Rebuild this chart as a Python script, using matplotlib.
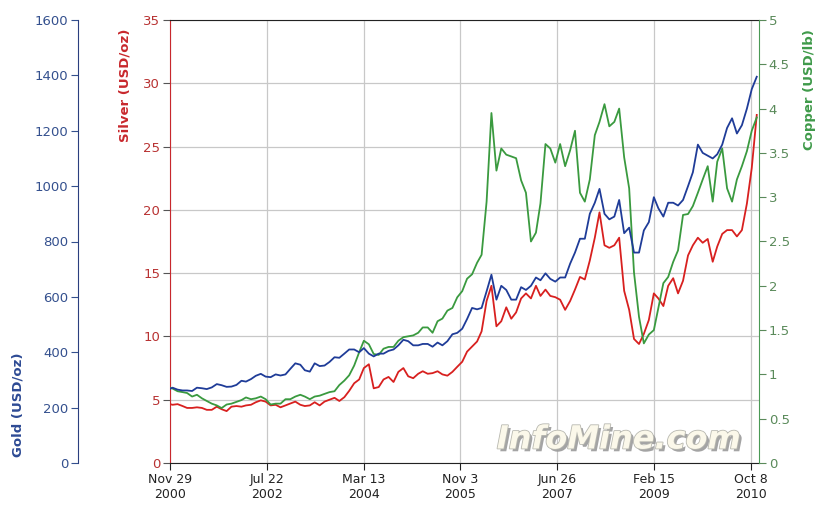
import pandas as pd
import matplotlib
matplotlib.use("Agg")
import matplotlib.pyplot as plt
import matplotlib.patheffects as pe
from matplotlib.ticker import FuncFormatter

# monthly readings (first point = Nov 29 2000, then mid-month Dec 2000 .. Nov 2010)
gold = [268, 272,
        265, 262, 262, 260, 272, 270, 267, 273, 285, 281, 275, 276,
        282, 297, 294, 303, 315, 322, 312, 310, 320, 316, 320, 340,
        360, 355, 335, 330, 360, 350, 352, 365, 382, 380, 395, 410,
        410, 400, 415, 395, 385, 395, 395, 405, 410, 425, 445, 440,
        425, 425, 430, 430, 420, 435, 425, 440, 465, 470, 485, 520,
        560, 555, 560, 620, 680, 590, 640, 625, 590, 590, 635, 625,
        640, 670, 660, 685, 665, 655, 670, 670, 720, 760, 810, 810,
        900, 940, 990, 900, 880, 890, 950, 830, 850, 760, 760, 840,
        870, 960, 920, 890, 940, 940, 930, 950, 1000, 1050, 1150, 1120,
        1110, 1100, 1115, 1150, 1210, 1245, 1190, 1220, 1280, 1350, 1395]

silver = [4.65, 4.60,
          4.65, 4.50, 4.35, 4.35, 4.40, 4.35, 4.20, 4.20, 4.45, 4.25, 4.10, 4.45,
          4.50, 4.45, 4.55, 4.60, 4.80, 4.95, 4.85, 4.55, 4.60, 4.40, 4.55, 4.70,
          4.85, 4.60, 4.50, 4.55, 4.80, 4.55, 4.85, 5.00, 5.15, 4.90, 5.20, 5.70,
          6.30, 6.60, 7.50, 7.80, 5.90, 6.00, 6.60, 6.80, 6.40, 7.20, 7.50, 6.85,
          6.70, 7.05, 7.25, 7.05, 7.10, 7.25, 7.00, 6.90, 7.20, 7.60, 8.00, 8.80,
          9.20, 9.60, 10.40, 12.80, 14.00, 10.80, 11.20, 12.30, 11.40, 11.90, 13.00, 13.40,
          13.00, 14.00, 13.20, 13.70, 13.20, 13.10, 12.90, 12.10, 12.80, 13.70, 14.70, 14.50,
          16.00, 17.80, 19.80, 17.20, 17.00, 17.20, 17.80, 13.60, 12.10, 9.80, 9.40, 10.20,
          11.30, 13.40, 13.00, 12.40, 14.00, 14.60, 13.40, 14.40, 16.40, 17.20, 17.80, 17.40,
          17.70, 15.90, 17.10, 18.10, 18.40, 18.40, 17.90, 18.40, 20.50, 23.30, 27.50]

copper = [0.85, 0.84,
          0.81, 0.80, 0.79, 0.75, 0.77, 0.73, 0.70, 0.67, 0.65, 0.62, 0.66, 0.67,
          0.69, 0.71, 0.74, 0.72, 0.73, 0.75, 0.72, 0.66, 0.67, 0.67, 0.72, 0.72,
          0.75, 0.77, 0.75, 0.72, 0.75, 0.76, 0.78, 0.80, 0.81, 0.88, 0.93, 0.99,
          1.10, 1.25, 1.38, 1.34, 1.23, 1.22, 1.29, 1.31, 1.31, 1.38, 1.42, 1.43,
          1.44, 1.47, 1.53, 1.53, 1.47, 1.60, 1.63, 1.72, 1.75, 1.87, 1.94, 2.08,
          2.13, 2.26, 2.35, 2.95, 3.95, 3.30, 3.55, 3.48, 3.46, 3.44, 3.19, 3.05,
          2.50, 2.60, 2.93, 3.60, 3.55, 3.39, 3.60, 3.35, 3.53, 3.75, 3.05, 2.95,
          3.20, 3.70, 3.85, 4.05, 3.80, 3.85, 4.00, 3.45, 3.10, 2.15, 1.65, 1.35,
          1.45, 1.50, 1.75, 2.03, 2.10, 2.27, 2.40, 2.80, 2.81, 2.90, 3.05, 3.20,
          3.35, 2.95, 3.40, 3.55, 3.10, 2.95, 3.20, 3.35, 3.52, 3.75, 3.90]

dates = [pd.Timestamp("2000-11-29")] + list(pd.date_range("2000-12-01", "2010-11-01", freq="MS") + pd.Timedelta(days=14))

x_start = pd.Timestamp("2000-11-29")
x_end = pd.Timestamp("2010-11-29")
tick_dates = [x_start + pd.Timedelta(days=600 * i) for i in range(7)]
tick_labels = [d.strftime("%b %-d\n%Y") for d in tick_dates]

gold_c, silver_c, copper_c = "#1f3c98", "#d8201f", "#3a9a3f"

fig = plt.figure(figsize=(8.17, 5.07), dpi=100)
ax = fig.add_axes([170 / 817, 44 / 507, 589 / 817, 443 / 507])

# silver on the main axis
ax.plot(dates, silver, color=silver_c, lw=1.3, zorder=3)
ax.set_ylim(0, 35)
ax.set_yticks(range(0, 36, 5))
ax.set_xlim(x_start, x_end)
ax.set_xticks(tick_dates)
ax.set_xticklabels(tick_labels, fontsize=9, color="#222222")
ax.grid(True, color="#c8c8c8", lw=0.9)
ax.set_axisbelow(True)
ax.tick_params(axis="y", colors="#b83232", labelsize=9.5, length=5, pad=2)
ax.tick_params(axis="y", color="#555555")
ax.tick_params(axis="x", length=5, color="#222222", pad=2)
ax.spines["left"].set_color("#c8282d")
ax.spines["right"].set_visible(False)
ax.spines["top"].set_color("#222222")
ax.spines["bottom"].set_color("#222222")

# copper on the right
axc = ax.twinx()
axc.plot(dates, copper, color=copper_c, lw=1.3, zorder=3)
axc.set_ylim(0, 5)
axc.set_yticks([i * 0.5 for i in range(11)])
axc.yaxis.set_major_formatter(FuncFormatter(lambda v, p: f"{v:g}"))
axc.tick_params(axis="y", colors="#5a8a5a", labelsize=9.5, length=5, pad=2)
axc.spines["right"].set_color("#4a9a55")
for s in ["left", "top", "bottom"]:
    axc.spines[s].set_visible(False)

# gold on an outer left axis
axg = ax.twinx()
axg.plot(dates, gold, color=gold_c, lw=1.3, zorder=4)
axg.set_ylim(0, 1600)
axg.set_yticks(range(0, 1601, 200))
axg.yaxis.set_ticks_position("left")
axg.yaxis.set_label_position("left")
axg.spines["left"].set_position(("axes", -92 / 589))
axg.spines["left"].set_visible(True)
axg.spines["left"].set_color("#2b3f7f")
for s in ["right", "top", "bottom"]:
    axg.spines[s].set_visible(False)
axg.tick_params(axis="y", colors="#34508e", labelsize=9.5, length=5, pad=2)

# axis titles
fig.text(18 / 817, 1 - 405 / 507, "Gold (USD/oz)", rotation=90, ha="center", va="center",
         color="#2d4a94", fontsize=9.5, fontweight="bold")
fig.text(125 / 817, 1 - 85 / 507, "Silver (USD/oz)", rotation=90, ha="center", va="center",
         color="#c8282d", fontsize=9.5, fontweight="bold")
fig.text(809 / 817, 1 - 90 / 507, "Copper (USD/lb)", rotation=90, ha="center", va="center",
         color="#3f9a4a", fontsize=9.5, fontweight="bold")

# watermark
wm = fig.text(619 / 817, 1 - 440 / 507, "InfoMine.com", ha="center", va="center",
              fontsize=23, fontweight="bold", style="italic", color="#fbf8ea", zorder=10)
wm.set_path_effects([pe.withSimplePatchShadow(offset=(2, -2), shadow_rgbFace="#9a9a9a", alpha=0.9),
                     pe.withStroke(linewidth=1.2, foreground="#b8b8b0")])

fig.savefig("out.png", dpi=100)
